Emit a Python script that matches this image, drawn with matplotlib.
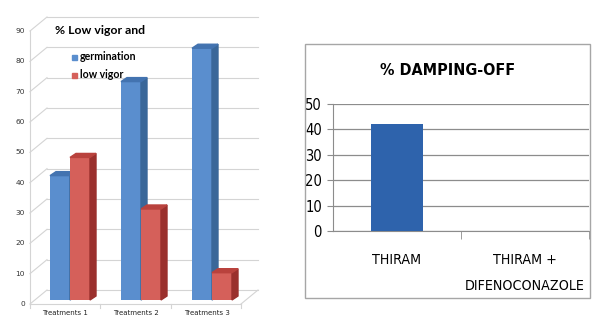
import matplotlib
matplotlib.use("Agg")
import matplotlib.pyplot as plt
from matplotlib.patches import Polygon, Rectangle
from matplotlib.transforms import offset_copy

# ---- data -------------------------------------------------------------
treatments = ["Treatments 1", "Treatments 2", "Treatments 3"]
germination = [41, 72, 83]
low_vigor = [47, 30, 9]
left_ticks = [0, 10, 20, 30, 40, 50, 60, 70, 80, 90]

fungicides = ["THIRAM", "THIRAM +\nDIFENOCONAZOLE"]
damping_off = [42, 0]
right_ticks = [0, 10, 20, 30, 40, 50]

W, H = 609, 323
fig = plt.figure(figsize=(W / 100, H / 100), dpi=100)
fig.patch.set_facecolor("white")


def frac(x0, y0, x1, y1):
    """Pixel box (top-left origin) -> figure fraction rect."""
    return [x0 / W, 1 - y1 / H, (x1 - x0) / W, (y1 - y0) / H]


narrow = dict(family="DejaVu Sans", fontstretch="condensed")

# ---- left: pseudo-3D clustered columns --------------------------------
ax1 = fig.add_axes(frac(35, 27, 246, 300))
ax1.set_xlim(-0.493, 2.479)
ax1.set_ylim(0, 90)
ax1.axis("off")

px_x = 71.0            # pixels per category unit
px_y = 273.0 / 90.0    # pixels per value unit
bw = 20 / px_x         # column width
ddx, ddy = 6 / px_x, 4 / px_y          # column depth
bdx, bdy = 12, 10                       # back wall offset (px)
fdx, fdy = -5, -4                       # front edge offset (px)

back = offset_copy(ax1.transData, fig, x=bdx, y=bdy, units="dots")
front = offset_copy(ax1.transData, fig, x=fdx, y=fdy, units="dots")
x0, x1 = ax1.get_xlim()
grid_c = "#D4D4D4"

# walls & gridlines
for v in left_ticks:
    ax1.plot([x0, x1], [v, v], color=grid_c, lw=0.8, transform=back,
             clip_on=False, zorder=1)
    ax1.plot([x0 - 5 / px_x, x0 + 12 / px_x], [v - 4 / px_y, v + 10 / px_y],
             color=grid_c, lw=0.8, clip_on=False, zorder=1)
ax1.plot([x0, x0], [0, 90], color=grid_c, lw=0.8, transform=front,
         clip_on=False, zorder=1)
# floor
ax1.plot([x0, x1], [0, 0], color=grid_c, lw=0.8, transform=front,
         clip_on=False, zorder=1)
ax1.plot([x1 - 5 / px_x, x1 + 12 / px_x], [-4 / px_y, 10 / px_y],
         color=grid_c, lw=0.8, clip_on=False, zorder=1)
for b in [x0, 0.5, 1.5, x1]:
    ax1.plot([b, b], [0, -4 / px_y], color=grid_c, lw=0.8, transform=front,
             clip_on=False, zorder=1)

# y tick labels on the front edge
for v in left_ticks:
    ax1.text(x0, v, str(v), transform=offset_copy(ax1.transData, fig, x=-10,
             y=-4, units="dots"), ha="right", va="center", fontsize=5.3,
             color="#333333", family="DejaVu Sans")
# category labels
for i, name in enumerate(treatments):
    ax1.text(i, 0, name, transform=offset_copy(ax1.transData, fig, x=-5,
             y=-13, units="dots"), ha="center", va="center", fontsize=5,
             color="#222222", family="DejaVu Sans")

series = [
    (germination, -bw, ("#5A8ECE", "#3A6799", "#4373B0")),
    (low_vigor, 0.0, ("#D5605A", "#9A302D", "#B9423D")),
]
z = 3
for i in range(len(treatments)):
    for vals, off, (cf, cs, ct) in series:
        v = vals[i]
        xl = i + off
        xr = xl + bw
        ax1.bar(xl, v, width=bw, align="edge", color=cf, zorder=z,
                clip_on=False)
        ax1.add_patch(Polygon([(xr, 0), (xr, v), (xr + ddx, v + ddy),
                               (xr + ddx, ddy)], closed=True, color=cs,
                              zorder=z, clip_on=False))
        ax1.add_patch(Polygon([(xl, v), (xr, v), (xr + ddx, v + ddy),
                               (xl + ddx, v + ddy)], closed=True, color=ct,
                              zorder=z, clip_on=False))
        z += 1

fig.text(55 / W, 1 - 31 / H, "% Low vigor and", fontsize=8.8,
         fontweight="bold", family="Lato", ha="left", va="center")
fig.patches.append(Rectangle((72 / W, 1 - 59.5 / H), 4.5 / W, 4.5 / H,
                             transform=fig.transFigure, color="#5A8ECE"))
fig.patches.append(Rectangle((72 / W, 1 - 77.5 / H), 4.5 / W, 4.5 / H,
                             transform=fig.transFigure, color="#D5605A"))
fig.text(80 / W, 1 - 57 / H, "germination", fontsize=7.6, fontweight="bold",
         family="Lato", ha="left", va="center")
fig.text(80 / W, 1 - 75 / H, "low vigor", fontsize=7.6, fontweight="bold",
         family="Lato", ha="left", va="center")

# ---- right: damping-off column chart -----------------------------------
fig.patches.append(Rectangle((305 / W, 1 - 298 / H), 285 / W, 254 / H,
                             transform=fig.transFigure, fill=False,
                             edgecolor="#A6A6A6", lw=1))
ax2 = fig.add_axes(frac(333, 104, 589, 231))
ax2.set_xlim(-0.5, 1.5)
ax2.set_ylim(0, 50)
ax2.bar(range(len(fungicides)), damping_off, width=0.4, color="#2E63AC",
        zorder=3)
ax2.set_yticks(right_ticks)
ax2.set_yticklabels([str(t) for t in right_ticks], fontsize=10.5, **narrow)
ax2.yaxis.grid(True, color="#8C8C8C", lw=0.9)
ax2.set_axisbelow(True)
ax2.set_xticks(range(len(fungicides)))
ax2.set_xticklabels(fungicides, fontsize=10.2, **narrow)
ax2.set_xticks([0.5, 1.5], minor=True)
ax2.tick_params(axis="x", which="major", length=0, pad=16)
ax2.tick_params(axis="x", which="minor", length=6, color="#8C8C8C")
ax2.tick_params(axis="y", length=4, color="#8C8C8C", pad=4)
for lab in ax2.get_xticklabels():
    lab.set_linespacing(2.1)
for s in ["top", "right"]:
    ax2.spines[s].set_visible(False)
for s in ["left", "bottom"]:
    ax2.spines[s].set_color("#8C8C8C")
fig.text(448 / W, 1 - 70 / H, "% DAMPING-OFF", fontsize=11.5,
         fontweight="bold", ha="center", va="center", **narrow)

fig.savefig("out.png", dpi=100)
